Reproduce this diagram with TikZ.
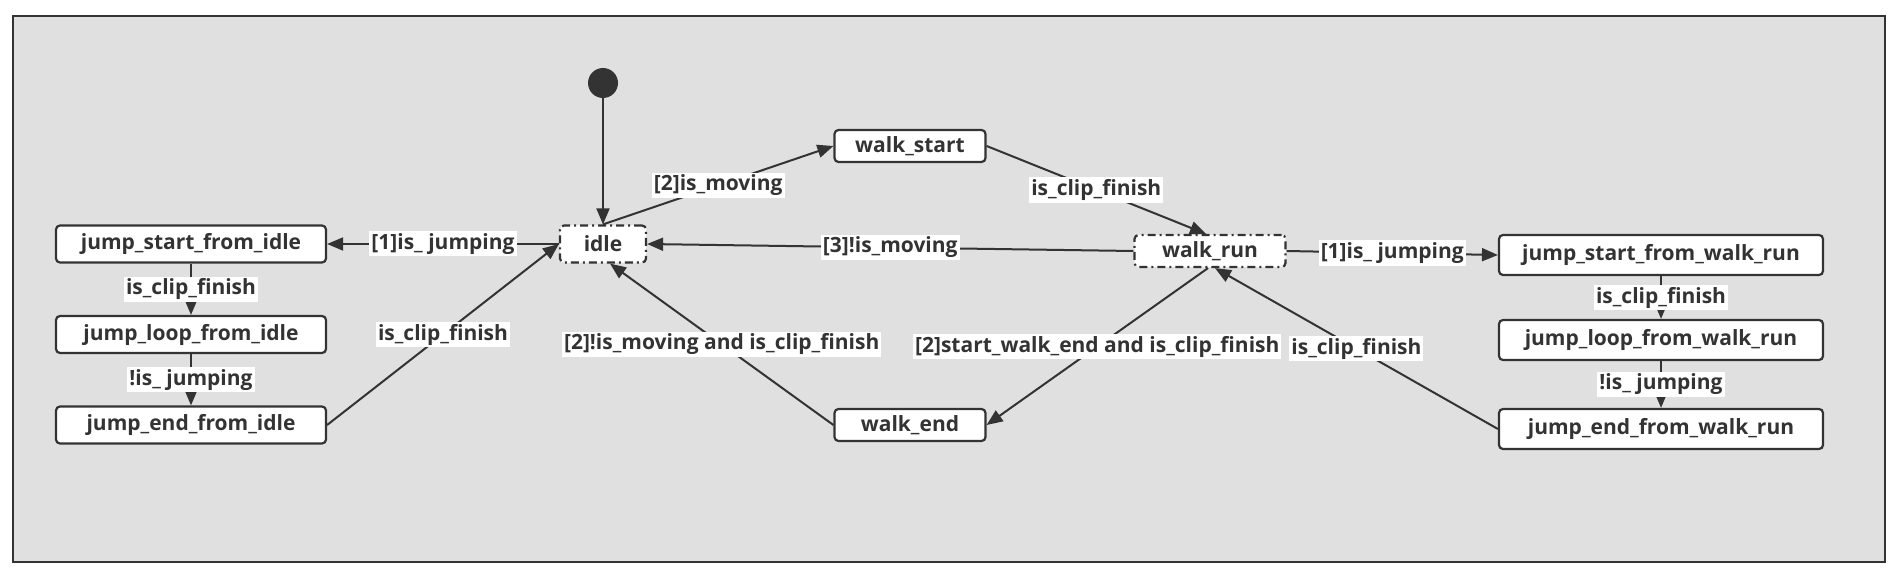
\documentclass[tikz,border=0pt]{standalone}
\usepackage{fontspec}
\setmainfont{Open Sans}
\usepackage{xcolor}
\usetikzlibrary{arrows.meta, shapes}

\definecolor{lineGray}{HTML}{333333}
\definecolor{paneGray}{HTML}{E0E0E0}

\begin{document}
\begin{tikzpicture}[x=0.5pt, y=-0.5pt,
  font=\fontsize{10.5}{12}\selectfont\bfseries,
  stateBox/.style={rectangle, rounded corners=2pt, draw=lineGray, line width=1.1pt,
    fill=white, text=lineGray, inner sep=0pt, minimum height=18.5pt},
  %
  choiceBox/.style={stateBox, dash pattern=on 4pt off 2pt on 1pt off 2pt},
  %
  initDot/.style={circle, fill=lineGray, inner sep=0pt, minimum size=15pt},
  %
  guard/.style={fill=white, text=lineGray, inner sep=1pt},
  %
  trans/.style={draw=lineGray, line width=1pt, -{Triangle[length=8pt, width=6.5pt]}}
  ]

  \useasboundingbox (0,0) rectangle (1899,572);
  \draw [draw=lineGray, line width=1pt, fill=paneGray] (12.5,16.5) rectangle (1885,562);

  \begin{scope}
    %%%%%%%%%%%%%%%%%%%%%%%%%%%%%%%
    \node [initDot] (init) at (603,83) {};
    \node [choiceBox, minimum width=43pt] (idle) at (603,244) {idle};
    %%%%%%%%%%%%%%%%%%%%%%%%%%%%%%%
    \node [stateBox, minimum width=135pt] (jumpStartIdle) at (191,244) {jump\_start\_from\_idle};
    \node [stateBox, minimum width=135pt] (jumpLoopIdle) at (191,334.5) {jump\_loop\_from\_idle};
    \node [stateBox, minimum width=135pt] (jumpEndIdle) at (191,425) {jump\_end\_from\_idle};
    %%%%%%%%%%%%%%%%%%%%%%%%%%%%%%%
    \node [stateBox, minimum width=75.5pt, minimum height=16pt] (walkStart) at (910,146) {walk\_start};
    \node [choiceBox, minimum width=75.5pt, minimum height=16pt] (walkRun) at (1210,251) {walk\_run};
    \node [stateBox, minimum width=75.5pt, minimum height=16pt] (walkEnd) at (910,425) {walk\_end};
    %%%%%%%%%%%%%%%%%%%%%%%%%%%%%%%
    \node [stateBox, minimum width=162pt, minimum height=20pt] (jumpStartRun) at (1661,255) {jump\_start\_from\_walk\_run};
    \node [stateBox, minimum width=162pt, minimum height=20pt] (jumpLoopRun) at (1661,340) {jump\_loop\_from\_walk\_run};
    \node [stateBox, minimum width=162pt, minimum height=20pt] (jumpEndRun) at (1661,429) {jump\_end\_from\_walk\_run};
  \end{scope}

  \begin{scope}
    \draw [trans] (init) -- (idle);
    \draw [trans] (idle.west) -- node [guard] {[1]is\_ jumping} (jumpStartIdle.east);
    \draw [trans] (jumpStartIdle) -- node [guard] {is\_clip\_finish} (jumpLoopIdle);
    \draw [trans] (jumpLoopIdle) -- node [guard] {!is\_ jumping} (jumpEndIdle);
    \draw [trans] (jumpEndIdle.east) -- node [guard] {is\_clip\_finish} (idle.west);
    %
    \draw [trans] (idle.north) -- node [guard] {[2]is\_moving} (walkStart.west);
    \draw [trans] (walkStart.east) -- node [guard] {is\_clip\_finish} ([xshift=-2pt]walkRun.north);
    \draw [trans] (walkRun.west) -- node [guard] {[3]!is\_moving} (idle.east);
    \draw [trans] (walkEnd.west) -- node [guard] {[2]!is\_moving and is\_clip\_finish} ([xshift=3.5pt]idle.south);
    \draw [trans] ([xshift=-1pt]walkRun.south) -- node [guard] {[2]start\_walk\_end and is\_clip\_finish} (walkEnd.east);
    %
    \draw [trans] (walkRun.east) -- node [guard] {[1]is\_ jumping} (jumpStartRun.west);
    \draw [trans] (jumpStartRun) -- node [guard] {is\_clip\_finish} (jumpLoopRun);
    \draw [trans] (jumpLoopRun) -- node [guard] {!is\_ jumping} (jumpEndRun);
    \draw [trans] (jumpEndRun.west) -- node [guard] {is\_clip\_finish} ([xshift=2.5pt]walkRun.south);
  \end{scope}

\end{tikzpicture}
\end{document}
